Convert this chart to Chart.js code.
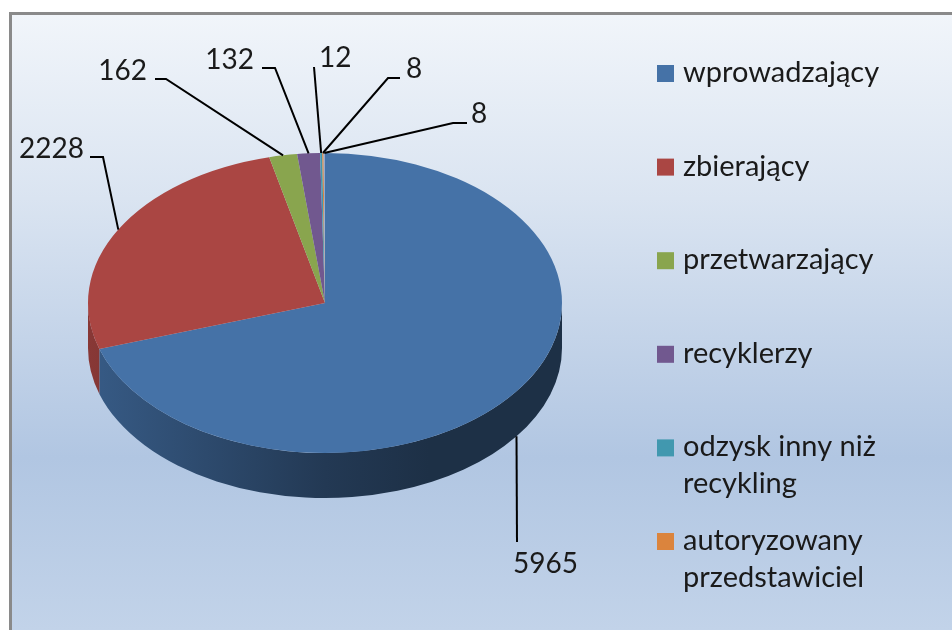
<!DOCTYPE html>
<html>
<head>
<meta charset="utf-8">
<script src="https://cdn.jsdelivr.net/npm/chart.js@4.4.0/dist/chart.umd.min.js"></script>
<style>
  html, body { margin: 0; padding: 0; background: #fff; overflow: hidden; }
  #wrap { width: 952px; height: 630px; }
</style>
</head>
<body>
<div id="wrap"><canvas id="chart" width="952" height="630"></canvas></div>
<script>
/* 3D-looking pie: Chart.js pie, squashed vertically, with side walls drawn under it */

var categories = ['wprowadzający', 'zbierający', 'przetwarzający', 'recyklerzy',
  'odzysk inny niż recykling', 'autoryzowany przedstawiciel', ''];
var legendLines = [['wprowadzający'], ['zbierający'], ['przetwarzający'], ['recyklerzy'],
  ['odzysk inny niż', 'recykling'], ['autoryzowany', 'przedstawiciel']];
var values = [5965, 2228, 162, 132, 12, 8, 8];
var colors = ['#4572A7', '#AA4643', '#89A54E', '#71588F', '#4198AF', '#DB843D', '#93A9CF'];

// label layout: text position + leader line (start, elbow), end is computed from the slice
var labelPos = [[513, 573, 'left'], [84, 158, 'right'], [147, 80, 'right'], [254, 69, 'right'],
  [319, 67, 'left'], [406, 78, 'left'], [471, 123, 'left']];
var leaderStart = [[517, 542], [90, 157], [155, 79], [262, 68], [314, 67], [400, 78], [467, 123]];
var leaderElbow = [[517, 542], [103, 157], [166, 79], [275, 68], [314, 67], [388, 78], [453, 123]];

var TILT = 150 / 237;
var DEPTH = 45;

function shade(hex, f) {
  var n = parseInt(hex.slice(1), 16);
  var r = Math.round(((n >> 16) & 255) * f);
  var g = Math.round(((n >> 8) & 255) * f);
  var b = Math.round((n & 255) * f);
  return 'rgb(' + r + ',' + g + ',' + b + ')';
}

var pie3d = {
  id: 'pie3d',
  beforeDraw: function (chart) {
    var ctx = chart.ctx;
    ctx.save();
    ctx.fillStyle = '#ffffff';
    ctx.fillRect(0, 0, chart.width, chart.height);
    var g = ctx.createLinearGradient(0, 14, 0, 630);
    g.addColorStop(0, '#f1f5fa');
    g.addColorStop(0.3, '#dae4f1');
    g.addColorStop(0.72, '#b1c6e2');
    g.addColorStop(1, '#c2d3e9');
    ctx.fillStyle = g;
    ctx.fillRect(10, 14, chart.width, chart.height);
    ctx.strokeStyle = '#8a8a8a';
    ctx.lineWidth = 3;
    ctx.beginPath();
    ctx.moveTo(10.5, chart.height + 5);
    ctx.lineTo(10.5, 13.5);
    ctx.lineTo(chart.width + 5, 13.5);
    ctx.stroke();
    ctx.restore();
  },
  beforeDatasetsDraw: function (chart) {
    var ctx = chart.ctx;
    var arcs = chart.getDatasetMeta(0).data;
    var cx = arcs[0].x, cy = arcs[0].y, rx = arcs[0].outerRadius, ry = rx * TILT;

    // side walls (only the front half is visible)
    arcs.forEach(function (arc, i) {
      var s = Math.max(arc.startAngle, 0);
      var e = Math.min(arc.endAngle, Math.PI);
      if (e <= s) return;
      var c = colors[i];
      var g = ctx.createLinearGradient(cx - rx, 0, cx + rx, 0);
      g.addColorStop(0, shade(c, 0.8));
      g.addColorStop(0.5, shade(c, 0.5));
      g.addColorStop(0.72, shade(c, 0.42));
      g.addColorStop(1, shade(c, 0.42));
      ctx.beginPath();
      ctx.ellipse(cx, cy, rx, ry, 0, s, e);
      ctx.ellipse(cx, cy + DEPTH, rx, ry, 0, e, s, true);
      ctx.closePath();
      ctx.fillStyle = g;
      ctx.fill();
    });

    // squash the top face
    ctx.save();
    ctx.translate(0, cy);
    ctx.scale(1, TILT);
    ctx.translate(0, -cy);
  },
  afterDatasetsDraw: function (chart) {
    var ctx = chart.ctx;
    ctx.restore();

    var arcs = chart.getDatasetMeta(0).data;
    var cx = arcs[0].x, cy = arcs[0].y, rx = arcs[0].outerRadius, ry = rx * TILT;

    // data labels with leader lines
    ctx.save();
    ctx.strokeStyle = '#000';
    ctx.lineWidth = 2;
    ctx.fillStyle = '#1a1a1a';
    ctx.font = '28px Lato';
    ctx.textBaseline = 'alphabetic';
    arcs.forEach(function (arc, i) {
      var m = (arc.startAngle + arc.endAngle) / 2;
      var px = cx + rx * Math.cos(m);
      var py = cy + ry * Math.sin(m);
      if (Math.sin(m) > 0.3) py += DEPTH;
      ctx.beginPath();
      ctx.moveTo(leaderStart[i][0], leaderStart[i][1]);
      ctx.lineTo(leaderElbow[i][0], leaderElbow[i][1]);
      ctx.lineTo(px, py);
      ctx.stroke();
      ctx.textAlign = labelPos[i][2];
      ctx.fillText(String(values[i]), labelPos[i][0], labelPos[i][1]);
    });

    // legend
    ctx.font = '29px Lato';
    ctx.textAlign = 'left';
    ctx.fillStyle = '#1a1a1a';
    legendLines.forEach(function (lines, i) {
      var base = 82 + i * 93.6;
      ctx.fillStyle = colors[i];
      ctx.fillRect(657, base - 17, 17, 17);
      ctx.fillStyle = '#1a1a1a';
      lines.forEach(function (t, j) {
        ctx.fillText(t, 683, base + j * 37);
      });
    });
    ctx.restore();
  }
};

new Chart(document.getElementById('chart').getContext('2d'), {
  type: 'pie',
  data: {
    labels: categories,
    datasets: [{
      data: values,
      backgroundColor: colors,
      borderWidth: 0,
      clip: false
    }]
  },
  options: {
    responsive: false,
    devicePixelRatio: 1,
    animation: false,
    events: [],
    layout: { padding: { left: 88, right: 390, top: 66, bottom: 90 } },
    plugins: {
      legend: { display: false },
      tooltip: { enabled: false }
    }
  },
  plugins: [pie3d]
});
</script>
</body>
</html>
